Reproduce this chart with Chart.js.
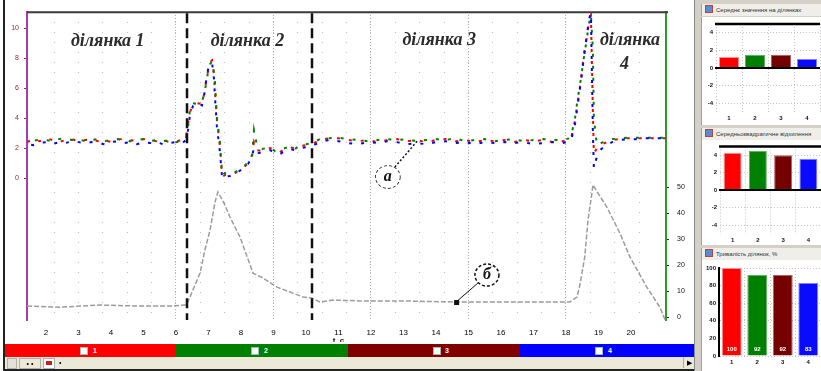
<!DOCTYPE html>
<html>
<head>
<meta charset="utf-8">
<script src="https://cdn.jsdelivr.net/npm/chart.js@4.4.1/dist/chart.umd.min.js"></script>
<style>
  html, body { margin: 0; padding: 0; background: #fff; }
  body { width: 821px; height: 371px; position: relative; overflow: hidden; font-family: "Liberation Sans", Arial, sans-serif; }
  canvas { position: absolute; }
  .box { position: absolute; }
  #main { left: 0; top: 0; }
  .seg { position: absolute; top: 344px; height: 13px; color: #fff; font-size: 7px; font-weight: bold; line-height: 13px; }
  .seg i { position: absolute; top: 3px; width: 6px; height: 6px; background: #fff; border: 1px solid #9bb; }
  .seg b { position: absolute; top: 0; }
  #scroll { left: 5px; top: 357px; width: 690px; height: 12px; background: #ece9d8; }
  #side { left: 694px; top: 0; width: 127px; height: 371px; background: #d4d0c8; border-left: 1px solid #8a8a8a; }
  .pane { position: absolute; left: 701px; width: 120px; background: #fff; border-left: 1px solid #a0a0a0; }
  .ptitle { position: absolute; left: 701px; width: 120px; height: 12px; background: #efeee9; border-left: 1px solid #a0a0a0; font-size: 6px; line-height: 12px; color: #333; white-space: nowrap; overflow: hidden; }
  .ptitle span { display: inline-block; width: 6px; height: 6px; margin: 0 3px 0 3px; background: #5a8ad0; border: 1px solid #c04040; vertical-align: -1px; }
</style>
</head>
<body>
<canvas id="main" width="695" height="342"></canvas>
<div class="box" style="left:3px;top:0;width:2px;height:371px;background:#222"></div>

<div class="seg" style="left:5px;width:171px;background:#ff0000"><i style="left:75px"></i><b style="left:88px">1</b></div>
<div class="seg" style="left:176px;width:172px;background:#008000"><i style="left:75px"></i><b style="left:88px">2</b></div>
<div class="seg" style="left:348px;width:172px;background:#800000"><i style="left:85px"></i><b style="left:97px">3</b></div>
<div class="seg" style="left:520px;width:174px;background:#0000ff"><i style="left:75px"></i><b style="left:88px">4</b></div>

<div class="box" id="scroll">
  <div class="box" style="left:2px;top:1px;width:8px;height:9px;border:1px solid #b0b0b0;background:#e4e2d8"></div>
  <div class="box" style="left:14px;top:1px;width:20px;height:9px;border:1px solid #b0b0b0;font-size:7px;line-height:9px;text-align:center">• •</div>
  <div class="box" style="left:38px;top:1px;width:10px;height:9px;border:1px solid #b0b0b0;background:#fff"><div class="box" style="left:2px;top:2px;width:6px;height:4px;background:#c02020"></div></div>
  <div class="box" style="left:54px;top:0;font-size:7px;line-height:11px">•</div>
  <div class="box" style="left:678px;top:0;width:10px;height:11px;border-left:1px solid #b0b0b0;font-size:7px;line-height:11px;text-align:center">▶</div>
</div>
<div class="box" style="left:3px;top:369px;width:692px;height:2px;background:#222"></div>

<div class="box" id="side"></div>
<div class="ptitle" style="top:4px"><span></span>Середнє значення на ділянках</div>
<div class="pane" style="top:17px;height:108px"></div>
<div class="ptitle" style="top:128px"><span></span>Середньоквадратичне відхилення</div>
<div class="pane" style="top:140px;height:105px"></div>
<div class="ptitle" style="top:248px"><span></span>Тривалість ділянок, %</div>
<div class="pane" style="top:260px;height:111px"></div>
<canvas id="p1" width="119" height="108" style="left:702px;top:17px"></canvas>
<canvas id="p2" width="119" height="105" style="left:702px;top:140px"></canvas>
<canvas id="p3" width="119" height="111" style="left:702px;top:260px"></canvas>

<script>
Chart.defaults.font.family = 'Liberation Sans';

// main chart: time axis and tick labels
const timeTicks = [2, 3, 4, 5, 6, 7, 8, 9, 10, 11, 12, 13, 14, 15, 16, 17, 18, 19, 20];
const leftTicks = [0, 2, 4, 6, 8, 10];
const rightTicks = [0, 10, 20, 30, 40, 50];

// signals (a) - three channels, shared time base
const tColor = [1.42, 1.6, 1.8, 2.0, 2.2, 2.4, 2.6, 2.8, 3.0, 3.2,
  3.4, 3.6, 3.8, 4.0, 4.2, 4.4, 4.6, 4.8, 5.0, 5.2,
  5.4, 5.6, 5.8, 6.0, 6.2, 6.3, 6.37, 6.43, 6.52, 6.66,
  6.80, 6.86, 6.92, 6.98, 7.05, 7.11, 7.17, 7.2, 7.26, 7.35,
  7.42, 7.51, 7.66, 7.82, 7.97, 8.1, 8.22, 8.34, 8.4, 8.49,
  8.65, 8.89, 9.05, 9.2, 9.35, 9.51, 9.66, 9.82, 10.0, 10.18,
  10.43, 10.7, 11.0, 11.3, 11.6, 11.9, 12.2, 12.5, 12.8, 13.1,
  13.4, 13.7, 14.0, 14.3, 14.6, 14.9, 15.2, 15.5, 15.8, 16.1,
  16.4, 16.7, 17.0, 17.3, 17.6, 17.9, 18.12, 18.18, 18.28, 18.37,
  18.46, 18.55, 18.65, 18.71, 18.77, 18.83, 18.86, 18.95, 19.05, 19.2,
  19.42, 19.66, 19.9, 20.2, 20.5, 20.8, 21.08];
const redVals = [2.40, 2.60, 2.46, 2.66, 2.54, 2.40, 2.54, 2.60, 2.46, 2.54,
  2.60, 2.46, 2.54, 2.40, 2.54, 2.66, 2.54, 2.46, 2.60, 2.54,
  2.46, 2.54, 2.40, 2.46, 2.54, 2.66, 3.6, 4.4, 4.86, 5.0,
  4.94, 5.54, 6.34, 7.06, 7.74, 7.86, 6.86, 5.74, 3.86, 2.2,
  0.1, 0.2, 0.2, 0.34, 0.54, 0.74, 1.0, 1.54, 2.4, 1.86,
  1.8, 2.0, 1.86, 1.74, 1.94, 2.06, 2.0, 2.14, 2.2, 2.26,
  2.54, 2.66, 2.66, 2.54, 2.46, 2.54, 2.4, 2.54, 2.6, 2.46,
  2.54, 2.4, 2.54, 2.6, 2.46, 2.54, 2.4, 2.54, 2.46, 2.54,
  2.4, 2.54, 2.46, 2.54, 2.4, 2.46, 2.6, 2.86, 3.86, 5.2,
  6.54, 8.2, 9.54, 10.4, 10.86, 4.4, 1.6, 2.0, 2.2, 2.34,
  2.54, 2.6, 2.66, 2.66, 2.66, 2.66, 2.66];
const greenVals = [2.54, 2.46, 2.6, 2.54, 2.46, 2.6, 2.66, 2.54, 2.6, 2.46,
  2.54, 2.6, 2.46, 2.54, 2.6, 2.54, 2.46, 2.54, 2.6, 2.46,
  2.54, 2.46, 2.54, 2.4, 2.46, 2.6, 3.4, 4.6, 5.0, 4.94,
  5.06, 5.6, 6.2, 7.0, 7.6, 7.8, 7.0, 6.4, 4.0, 2.4,
  0.2, 0.34, 0.26, 0.4, 0.6, 0.8, 1.06, 1.4, 3.2, 2.2,
  1.94, 2.06, 1.8, 1.86, 2.0, 2.1, 1.94, 2.2, 2.26, 2.34,
  2.6, 2.66, 2.7, 2.6, 2.54, 2.46, 2.54, 2.6, 2.54, 2.6,
  2.46, 2.54, 2.6, 2.54, 2.66, 2.46, 2.54, 2.6, 2.46, 2.54,
  2.6, 2.46, 2.54, 2.6, 2.54, 2.54, 2.66, 3.0, 4.0, 5.4,
  6.6, 8.0, 9.4, 10.3, 10.9, 8.6, 4.0, 2.2, 2.3, 2.46,
  2.6, 2.66, 2.7, 2.7, 2.7, 2.7, 2.7];
const blueVals = [2.26, 2.2, 2.34, 2.4, 2.26, 2.4, 2.34, 2.46, 2.4, 2.34,
  2.4, 2.34, 2.26, 2.4, 2.46, 2.34, 2.4, 2.26, 2.4, 2.34,
  2.4, 2.26, 2.34, 2.4, 2.34, 2.54, 3.2, 4.2, 4.8, 5.06,
  4.86, 5.4, 6.4, 7.2, 7.6, 7.7, 6.6, 5.4, 3.4, 1.8,
  0.0, 0.1, 0.14, 0.3, 0.5, 0.66, 0.94, 1.46, 2.0, 1.66,
  1.7, 1.86, 1.74, 1.6, 1.8, 1.94, 1.86, 2.0, 2.06, 2.14,
  2.4, 2.54, 2.46, 2.34, 2.26, 2.4, 2.34, 2.46, 2.4, 2.26,
  2.34, 2.26, 2.4, 2.46, 2.34, 2.4, 2.26, 2.4, 2.34, 2.4,
  2.34, 2.4, 2.26, 2.34, 2.4, 2.34, 2.46, 2.7, 3.6, 5.0,
  6.4, 8.0, 9.6, 10.6, 11.0, 3.0, 0.66, 1.4, 1.86, 2.14,
  2.4, 2.54, 2.6, 2.6, 2.66, 2.66, 2.66];

// signal (б) - grey curve on the right axis
const tGrey = [1.42, 2.43, 3.66, 4.89, 5.82, 6.28, 6.34, 6.52, 6.74, 6.89,
  7.05, 7.2, 7.29, 7.48, 7.66, 7.97, 8.37, 8.68, 9.11, 9.51,
  9.91, 10.18, 10.43, 10.83, 11.66, 12.89, 14.52, 15.97, 17.2, 18.12,
  18.34, 18.43, 18.58, 18.68, 18.8, 18.83, 19.26, 19.66, 19.97, 20.49,
  20.89, 21.05];
const greyVals = [4.2, 3.8, 4.6, 4.2, 4.2, 4.6, 5.0, 10.4, 16.9, 25.8,
  33.5, 44.2, 48.1, 43.8, 38.5, 30.8, 16.9, 15.0, 11.5, 9.6,
  7.7, 7.3, 5.8, 6.5, 6.2, 6.2, 5.8, 5.8, 5.8, 5.8,
  7.7, 12.3, 23.1, 37.3, 47.7, 50.8, 42.3, 32.3, 23.1, 11.5,
  3.8, -1.0];

// section boundaries and names
const sectionBounds = [6.34, 10.18];
const sectionNames = ['ділянка 1', 'ділянка 2', 'ділянка 3', 'ділянка', '4'];
const sectionNameT = [3.9, 8.2, 14.1, 19.97, 19.8];
const sectionNameV = [9.1, 9.1, 9.2, 9.2, 7.6];

// side panels
const panelCats = ['1', '2', '3', '4'];
const meanVals = [1.25, 1.48, 1.48, 1.02];
const devVals = [4.3, 4.5, 4.0, 3.6];
const durVals = [100, 92, 92, 83];
const meanTicks = [-4, -2, 0, 2, 4];
const durTicks = [0, 20, 40, 60, 80, 100];
const barColors = ['#ff0000', '#008000', '#750000', '#0a0aff'];
const barEdges = ['#ff9090', '#60b060', '#b06060', '#8080ff'];

const T_MIN = 1.415, T_MAX = 21.08;
const L_MIN = -9.47, L_MAX = 11.07;
const R_MIN = -1.15, R_MAX = 117.3;

function pts(xs, ys) {
  return xs.map((x, i) => ({ x: x, y: ys[i] }));
}

function colorLine(vals, color, offset) {
  return {
    data: pts(tColor, vals), xAxisID: 'x', yAxisID: 'y',
    borderColor: color, borderWidth: 2, borderDash: [3, 9], borderDashOffset: offset,
    pointRadius: 0, tension: 0, fill: false
  };
}

const overlay = {
  id: 'overlay',
  afterDatasetsDraw(chart) {
    const ctx = chart.ctx;
    const a = chart.chartArea;
    const x = chart.scales.x, yl = chart.scales.y, yr = chart.scales.yR;
    ctx.save();
    ctx.strokeStyle = '#3a3a3a';
    ctx.lineWidth = 2;
    ctx.beginPath();
    ctx.moveTo(a.left, a.top);
    ctx.lineTo(a.right + 2, a.top);
    ctx.stroke();

    ctx.strokeStyle = '#111';
    ctx.lineWidth = 2.5;
    ctx.setLineDash([10, 5]);
    sectionBounds.forEach(t => {
      const px = Math.round(x.getPixelForValue(t));
      ctx.beginPath();
      ctx.moveTo(px, a.top + 1);
      ctx.lineTo(px, a.bottom);
      ctx.stroke();
    });
    ctx.setLineDash([]);

    ctx.font = 'italic bold 18px "Liberation Serif"';
    ctx.fillStyle = '#2b2b2b';
    ctx.textAlign = 'center';
    ctx.textBaseline = 'middle';
    sectionNames.forEach((s, i) => {
      ctx.fillText(s, x.getPixelForValue(sectionNameT[i]), yl.getPixelForValue(sectionNameV[i]));
    });

    // (а) marker
    const ax = x.getPixelForValue(12.52), ay = yl.getPixelForValue(0.07);
    const ex = x.getPixelForValue(13.45), ey = yl.getPixelForValue(2.53);
    ctx.strokeStyle = '#111';
    ctx.lineWidth = 1.5;
    ctx.setLineDash([2, 2]);
    ctx.beginPath();
    ctx.moveTo(ax + 7, ay - 10);
    ctx.lineTo(ex, ey);
    ctx.stroke();
    ctx.setLineDash([3, 2]);
    ctx.beginPath();
    ctx.ellipse(ax, ay, 12, 11, 0, 0, Math.PI * 2);
    ctx.stroke();
    ctx.fillStyle = '#fff';
    ctx.fill();
    ctx.setLineDash([]);
    ctx.fillStyle = '#111';
    ctx.font = 'italic bold 16px "Liberation Serif"';
    ctx.fillText('а', ax, ay);

    // (б) marker
    const bx = x.getPixelForValue(15.57), by = yr.getPixelForValue(16.15);
    const fx = x.getPixelForValue(14.62), fy = yr.getPixelForValue(5.77);
    ctx.lineWidth = 1;
    ctx.beginPath();
    ctx.moveTo(bx - 9, by + 8);
    ctx.lineTo(fx, fy);
    ctx.stroke();
    ctx.fillRect(fx - 2, fy - 2, 5, 5);
    ctx.lineWidth = 1.5;
    ctx.setLineDash([3, 2]);
    ctx.beginPath();
    ctx.ellipse(bx, by, 12, 11, 0, 0, Math.PI * 2);
    ctx.fillStyle = '#fff';
    ctx.fill();
    ctx.stroke();
    ctx.setLineDash([]);
    ctx.fillStyle = '#111';
    ctx.fillText('б', bx, by);

    ctx.font = 'bold 8px "Liberation Sans"';
    ctx.fillText('t, с', x.getPixelForValue(11.0), a.bottom + 21);
    ctx.restore();
  }
};

new Chart(document.getElementById('main'), {
  type: 'line',
  data: {
    datasets: [
      {
        data: pts(tGrey, greyVals), xAxisID: 'x', yAxisID: 'yR',
        borderColor: '#9c9c9c', borderWidth: 1.5, borderDash: [5, 2],
        pointRadius: 0, tension: 0, fill: false
      },
      colorLine(blueVals, '#0000ff', 8),
      colorLine(greenVals, '#008000', 4),
      colorLine(redVals, '#ff0000', 0)
    ]
  },
  options: {
    responsive: false, animation: false, devicePixelRatio: 1,
    layout: { padding: { top: 12, left: 0, right: 0, bottom: 0 } },
    plugins: { legend: { display: false }, tooltip: { enabled: false } },
    scales: {
      x: {
        type: 'linear', position: 'bottom', min: T_MIN, max: T_MAX,
        afterBuildTicks: s => { s.ticks = timeTicks.map(v => ({ value: v })); },
        afterFit: s => { s.height = 22; },
        grid: { display: false, drawTicks: false }, border: { display: false },
        ticks: { color: '#000', font: { size: 8 }, padding: 8, maxRotation: 0, autoSkip: false }
      },
      xg: {
        type: 'linear', position: 'top', min: T_MIN, max: T_MAX,
        afterFit: s => { s.height = 0; },
        ticks: { display: false, stepSize: 0.75 },
        grid: { color: '#bdbdbd', drawTicks: false }, border: { display: false, dash: [1, 9] }
      },
      xm: {
        type: 'linear', position: 'top', min: T_MIN, max: T_MAX,
        afterFit: s => { s.height = 0; },
        ticks: { display: false, stepSize: 3 },
        grid: { color: '#b0b0b0', drawTicks: false }, border: { display: false, dash: [1, 2] }
      },
      y: {
        position: 'left', min: L_MIN, max: L_MAX,
        afterBuildTicks: s => { s.ticks = leftTicks.map(v => ({ value: v })); },
        afterFit: s => { s.width = 27; },
        grid: { drawOnChartArea: false, tickLength: 3, tickColor: '#a03030' },
        border: { color: '#a040a8', width: 2 },
        ticks: { color: '#a02828', font: { size: 7 }, padding: 5 }
      },
      yR: {
        position: 'right', min: R_MIN, max: R_MAX,
        afterBuildTicks: s => { s.ticks = rightTicks.map(v => ({ value: v })); },
        afterFit: s => { s.width = 29; },
        grid: { drawOnChartArea: false, tickLength: 3, tickColor: '#222' },
        border: { color: '#2c9a2c', width: 2 },
        ticks: { color: '#111', font: { size: 7 }, padding: 8 }
      }
    }
  },
  plugins: [overlay]
});

const panelLines = {
  id: 'panelLines',
  afterDatasetsDraw(chart, args, opts) {
    const ctx = chart.ctx;
    const a = chart.chartArea;
    const y = chart.scales.y;
    ctx.save();
    ctx.strokeStyle = '#000';
    if (opts.top) {
      ctx.lineWidth = 2.5;
      ctx.beginPath();
      ctx.moveTo(a.left - 1, a.top);
      ctx.lineTo(a.right, a.top);
      ctx.stroke();
    }
    if (opts.zero) {
      const py = Math.round(y.getPixelForValue(0));
      ctx.lineWidth = 2;
      ctx.beginPath();
      ctx.moveTo(a.left - 1, py);
      ctx.lineTo(a.right, py);
      ctx.stroke();
    }
    if (opts.inside) {
      const meta = chart.getDatasetMeta(0);
      ctx.fillStyle = '#fff';
      ctx.font = 'bold 6px "Liberation Sans"';
      ctx.textAlign = 'center';
      meta.data.forEach((bar, i) => {
        ctx.fillText(String(chart.data.datasets[0].data[i]), bar.x, a.bottom - 5);
      });
    }
    ctx.restore();
  }
};

function makePanel(id, vals, ticks, cfg) {
  return new Chart(document.getElementById(id), {
    type: 'bar',
    data: {
      labels: panelCats,
      datasets: [{
        data: vals, backgroundColor: barColors, borderColor: barEdges, borderWidth: 1,
        barPercentage: cfg.bar, categoryPercentage: 1
      }]
    },
    options: {
      responsive: false, animation: false, devicePixelRatio: 1,
      layout: { padding: { top: cfg.top, right: cfg.right, left: 0, bottom: 0 } },
      plugins: {
        legend: { display: false }, tooltip: { enabled: false },
        panelLines: { top: cfg.topLine, zero: cfg.zero, inside: cfg.inside }
      },
      scales: {
        x: {
          afterFit: s => { s.height = cfg.xh; },
          grid: { color: '#c4c4c4', drawTicks: false },
          border: { display: false, dash: [1, 2] },
          ticks: { color: '#111', font: { size: 6, weight: 'bold' }, padding: 3 }
        },
        y: {
          min: cfg.min, max: cfg.max,
          afterBuildTicks: s => { s.ticks = ticks.map(v => ({ value: v })); },
          afterFit: s => { s.width = cfg.yw; },
          grid: { color: '#c4c4c4', drawTicks: false },
          border: { display: cfg.axisLine, color: '#000', width: 2, dash: [1, 2] },
          ticks: { color: '#111', font: { size: 6, weight: 'bold' }, padding: 3 }
        }
      }
    },
    plugins: [panelLines]
  });
}

makePanel('p1', meanVals, meanTicks, { min: -5, max: 5, top: 7, right: 1, xh: 13, yw: 14, bar: 0.77, topLine: true, zero: true, axisLine: false });
makePanel('p2', devVals, meanTicks, { min: -5, max: 5, top: 6, right: 0, xh: 11, yw: 18, bar: 0.71, topLine: true, zero: true, axisLine: false });
makePanel('p3', durVals, durTicks, { min: 0, max: 100, top: 8, right: 0, xh: 15, yw: 17, bar: 0.78, topLine: false, zero: false, axisLine: true, inside: true });
</script>
</body>
</html>
